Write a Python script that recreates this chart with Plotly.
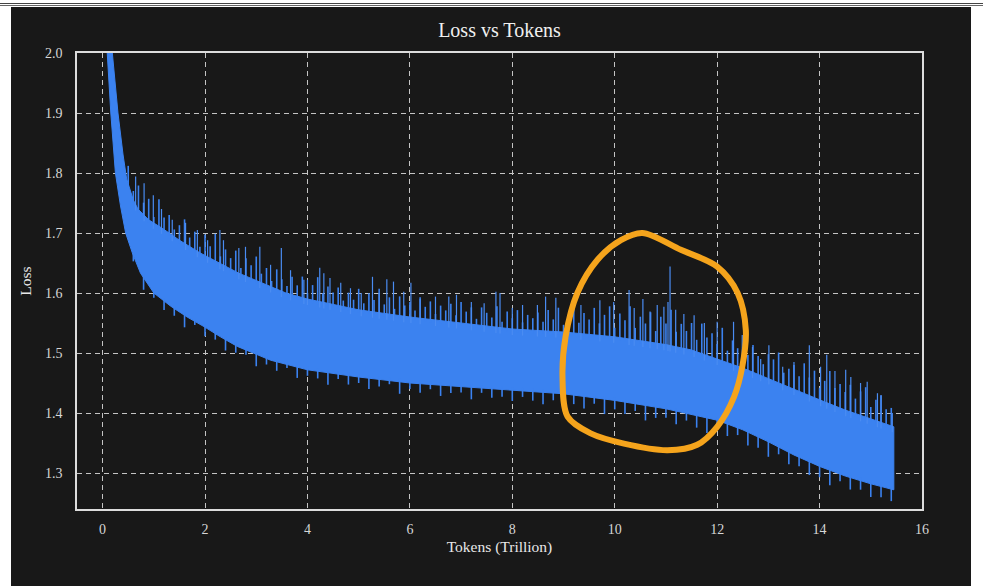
import numpy as np
import plotly.graph_objects as go

# ---- data ----
lower_x = [0.09, 0.16, 0.25, 0.35, 0.45, 0.58, 0.74, 1.0, 1.33, 1.65, 1.98, 2.3, 2.63,
           3.28, 4.0, 5.0, 6.0, 7.0, 8.0, 9.0, 10.0, 11.0, 12.0, 12.5, 13.0, 13.5, 14.0,
           14.5, 15.0, 15.45]
lower_y = [2.0, 1.9, 1.8, 1.745, 1.70, 1.667, 1.633, 1.60, 1.578, 1.56, 1.544, 1.527, 1.511,
           1.488, 1.472, 1.46, 1.45, 1.444, 1.438, 1.432, 1.421, 1.407, 1.388, 1.372, 1.352,
           1.33, 1.311, 1.295, 1.282, 1.272]
upper_x = [0.09, 0.19, 0.3, 0.4, 0.47, 0.6, 0.69, 0.9, 1.18, 1.5, 1.9, 2.66, 3.58, 4.0,
           5.0, 6.0, 7.0, 8.0, 9.0, 10.0, 11.0, 11.5, 12.0, 12.5, 13.0, 13.5, 14.0, 14.5, 15.0,
           15.45]
upper_y = [2.06, 2.0, 1.9, 1.83, 1.79, 1.755, 1.74, 1.722, 1.707, 1.688, 1.667, 1.633, 1.60,
           1.59, 1.572, 1.56, 1.55, 1.54, 1.535, 1.527, 1.514, 1.505, 1.49, 1.475, 1.458, 1.44,
           1.422, 1.405, 1.39, 1.377]

# tall individual spikes (absolute loss value at spike tip)
spike_x = [0.645, 0.81, 0.99, 1.15, 1.36, 1.62, 1.85, 2.05, 2.29, 2.36, 2.66, 2.79, 3.07, 3.28,
           3.49, 3.67, 3.93, 4.0, 4.24, 4.32, 4.44, 4.65, 4.84, 5.05, 5.27, 5.4, 5.55, 5.68,
           5.88, 6.02, 6.2, 6.5, 6.76, 6.91, 7.2, 7.45, 7.68, 7.76, 8.0, 8.2, 8.49, 8.65, 8.85,
           9.34, 9.71, 9.98, 10.28, 10.38, 10.55, 10.69, 10.83, 10.96, 11.04, 11.08, 11.19,
           11.35, 11.55, 11.75, 12.0, 12.32, 12.49, 12.69, 12.85, 13.01, 13.28, 13.5, 13.8,
           14.02, 14.14, 14.3, 14.51, 14.61, 14.8, 14.93, 15.13, 15.2, 15.42]
spike_y = [1.794, 1.783, 1.763, 1.74, 1.722, 1.717, 1.705, 1.688, 1.705, 1.688, 1.675, 1.677,
           1.677, 1.647, 1.675, 1.638, 1.622, 1.622, 1.642, 1.633, 1.625, 1.617, 1.608, 1.60,
           1.627, 1.60, 1.623, 1.619, 1.602, 1.617, 1.59, 1.594, 1.594, 1.597, 1.585, 1.583,
           1.602, 1.60, 1.575, 1.58, 1.58, 1.594, 1.592, 1.58, 1.588, 1.585, 1.605, 1.575,
           1.59, 1.569, 1.58, 1.577, 1.585, 1.644, 1.572, 1.565, 1.563, 1.55, 1.552, 1.552,
           1.53, 1.51, 1.49, 1.513, 1.477, 1.485, 1.513, 1.477, 1.497, 1.47, 1.472, 1.46,
           1.45, 1.452, 1.433, 1.43, 1.40]

# dense fringe of short hairlines above the band (height above band top)
fringe_x = [0.5, 0.6, 0.7, 0.8, 0.9, 1.0, 1.1, 1.2, 1.3, 1.4,
            1.5, 1.6, 1.7, 1.8, 1.9, 2.0, 2.1, 2.2, 2.3, 2.4,
            2.5, 2.6, 2.7, 2.8, 2.9, 3.0, 3.1, 3.2, 3.3, 3.4,
            3.5, 3.6, 3.7, 3.8, 3.9, 4.0, 4.1, 4.2, 4.3, 4.4,
            4.5, 4.6, 4.7, 4.8, 4.9, 5.0, 5.1, 5.2, 5.3, 5.4,
            5.5, 5.6, 5.7, 5.8, 5.9, 6.0, 6.1, 6.2, 6.3, 6.4,
            6.5, 6.6, 6.7, 6.8, 6.9, 7.0, 7.1, 7.2, 7.3, 7.4,
            7.5, 7.6, 7.7, 7.8, 7.9, 8.0, 8.1, 8.2, 8.3, 8.4,
            8.5, 8.6, 8.7, 8.8, 8.9, 9.0, 9.1, 9.2, 9.3, 9.4,
            9.5, 9.6, 9.7, 9.8, 9.9, 10.0, 10.1, 10.2, 10.3, 10.4,
            10.5, 10.6, 10.7, 10.8, 10.9, 11.0, 11.1, 11.2, 11.3, 11.4,
            11.5, 11.6, 11.7, 11.8, 11.9, 12.0, 12.1, 12.2, 12.3, 12.4,
            12.5, 12.6, 12.7, 12.8, 12.9, 13.0, 13.1, 13.2, 13.3, 13.4,
            13.5, 13.6, 13.7, 13.8, 13.9, 14.0, 14.1, 14.2, 14.3, 14.4,
            14.5, 14.6, 14.7, 14.8, 14.9, 15.0, 15.1, 15.2, 15.3, 15.4]
fringe_h = [0.03, 0.015, 0.04, 0.02, 0.035, 0.01, 0.045, 0.02, 0.03, 0.012,
            0.025, 0.04, 0.015, 0.03, 0.01, 0.035, 0.02, 0.045, 0.012, 0.028,
            0.018, 0.035, 0.01, 0.03, 0.022, 0.04, 0.015, 0.028, 0.01, 0.033,
            0.02, 0.012, 0.03, 0.018, 0.035, 0.01, 0.025, 0.04, 0.015, 0.028,
            0.02, 0.03, 0.01, 0.025, 0.015, 0.035, 0.012, 0.03, 0.02, 0.04,
            0.015, 0.028, 0.01, 0.032, 0.018, 0.025, 0.012, 0.035, 0.02, 0.03,
            0.01, 0.025, 0.018, 0.03, 0.012, 0.035, 0.02, 0.028, 0.01, 0.03,
            0.022, 0.015, 0.035, 0.01, 0.028, 0.018, 0.032, 0.012, 0.025, 0.02,
            0.03, 0.015, 0.035, 0.02, 0.04, 0.012, 0.03, 0.045, 0.018, 0.035,
            0.025, 0.045, 0.02, 0.035, 0.05, 0.015, 0.04, 0.03, 0.055, 0.02,
            0.04, 0.03, 0.05, 0.02, 0.045, 0.035, 0.06, 0.025, 0.04, 0.03,
            0.045, 0.02, 0.05, 0.03, 0.04, 0.025, 0.055, 0.02, 0.04, 0.03,
            0.035, 0.025, 0.045, 0.03, 0.02, 0.04, 0.035, 0.05, 0.02, 0.03,
            0.04, 0.025, 0.05, 0.03, 0.045, 0.02, 0.035, 0.055, 0.03, 0.04,
            0.03, 0.045, 0.025, 0.04, 0.05, 0.02, 0.035, 0.045, 0.025, 0.03]

# short hairlines below the band (depth below band bottom)
dip_x = [0.6, 0.8, 1.0, 1.2, 1.4, 1.6, 1.8, 2.0, 2.2, 2.4,
         2.6, 2.8, 3.0, 3.2, 3.4, 3.6, 3.8, 4.0, 4.2, 4.4,
         4.6, 4.8, 5.0, 5.2, 5.4, 5.6, 5.8, 6.0, 6.2, 6.4,
         6.6, 6.8, 7.0, 7.2, 7.4, 7.6, 7.8, 8.0, 8.2, 8.4,
         8.6, 8.8, 9.0, 9.2, 9.4, 9.6, 9.8, 10.0, 10.2, 10.4,
         10.6, 10.8, 11.0, 11.2, 11.4, 11.6, 11.8, 12.0, 12.2, 12.4,
         12.6, 12.8, 13.0, 13.2, 13.4, 13.6, 13.8, 14.0, 14.2, 14.4,
         14.6, 14.8, 15.0, 15.2, 15.4]
dip_h = [0.01, 0.02, 0.008, 0.015, 0.012, 0.02, 0.006, 0.015, 0.01, 0.018,
         0.012, 0.008, 0.02, 0.01, 0.015, 0.006, 0.018, 0.01, 0.012, 0.02,
         0.008, 0.015, 0.01, 0.018, 0.012, 0.006, 0.02, 0.01, 0.015, 0.008,
         0.018, 0.012, 0.01, 0.02, 0.008, 0.015, 0.012, 0.018, 0.01, 0.015,
         0.02, 0.012, 0.025, 0.015, 0.02, 0.01, 0.025, 0.015, 0.02, 0.012,
         0.025, 0.018, 0.015, 0.022, 0.012, 0.02, 0.025, 0.015, 0.02, 0.012,
         0.022, 0.018, 0.025, 0.012, 0.02, 0.015, 0.022, 0.018, 0.025, 0.012,
         0.02, 0.015, 0.022, 0.018, 0.02]

circle_x = [10.54, 11.29, 12.0, 12.40, 12.56, 12.49, 12.33, 12.0, 11.61, 11.03, 10.18, 9.53,
            9.08, 8.98, 9.04, 9.27, 9.66, 10.12, 10.54]
circle_y = [1.700, 1.672, 1.644, 1.600, 1.538, 1.477, 1.427, 1.377, 1.347, 1.338, 1.349, 1.366,
            1.394, 1.461, 1.527, 1.600, 1.655, 1.688, 1.700]

x_ticks = [0, 2, 4, 6, 8, 10, 12, 14, 16]
y_ticks = [1.3, 1.4, 1.5, 1.6, 1.7, 1.8, 1.9, 2.0]

BLUE = "#3b82f0"
BG = "#181818"
FONT = "Liberation Serif"

fig = go.Figure()

# band
band_x = list(lower_x) + list(upper_x)[::-1]
band_y = list(lower_y) + list(upper_y)[::-1]
fig.add_trace(go.Scatter(x=band_x, y=band_y, mode="lines", fill="toself",
                         fillcolor=BLUE, line=dict(color=BLUE, width=1),
                         hoverinfo="skip", showlegend=False))

# fringe hairlines
fx, fy = [], []
for x, h in zip(fringe_x, fringe_h):
    base = float(np.interp(x, upper_x, upper_y))
    fx += [x, x, None]
    fy += [base - 0.005, base + h, None]
for x, h in zip(dip_x, dip_h):
    base = float(np.interp(x, lower_x, lower_y))
    fx += [x, x, None]
    fy += [base + 0.005, base - h, None]
fig.add_trace(go.Scatter(x=fx, y=fy, mode="lines", line=dict(color=BLUE, width=1.6),
                         hoverinfo="skip", showlegend=False))

# tall spikes
sx, sy = [], []
for x, y in zip(spike_x, spike_y):
    base = float(np.interp(x, upper_x, upper_y))
    sx += [x, x, None]
    sy += [base - 0.01, y, None]
fig.add_trace(go.Scatter(x=sx, y=sy, mode="lines", line=dict(color="#4a8cf2", width=1.2),
                         hoverinfo="skip", showlegend=False))

# orange circle
fig.add_trace(go.Scatter(x=circle_x, y=circle_y, mode="lines",
                         line=dict(color="#f5a41c", width=6, shape="spline", smoothing=0.9),
                         hoverinfo="skip", showlegend=False))

# margins: l=77, r=61, t=53, b=77 -> plot area 845 x 456
PW, PH = 845, 456
def px2paper_x(px):
    return (px - 77) / PW
def py2paper_y(py):
    return (509 - py) / PH

shapes = [
    dict(type="rect", xref="paper", yref="paper", layer="below",
         x0=px2paper_x(11), x1=px2paper_x(971), y0=py2paper_y(586), y1=py2paper_y(7),
         fillcolor=BG, line=dict(width=0)),
    dict(type="line", xref="paper", yref="paper",
         x0=px2paper_x(0), x1=px2paper_x(983), y0=py2paper_y(3.5), y1=py2paper_y(3.5),
         line=dict(color="#444444", width=1.2)),
    dict(type="line", xref="paper", yref="paper",
         x0=px2paper_x(0), x1=px2paper_x(983), y0=py2paper_y(5.5), y1=py2paper_y(5.5),
         line=dict(color="#666666", width=1)),
]

axis_common = dict(
    showgrid=True, gridcolor="#c4c4c4", gridwidth=1, griddash="5px,4px",
    showline=True, linecolor="#dcdcdc", linewidth=1.5, mirror=True,
    ticks="", zeroline=False,
    tickfont=dict(family=FONT, size=14, color="#d6d6d6"),
)

fig.update_layout(
    width=983, height=586,
    margin=dict(l=77, r=61, t=53, b=77),
    paper_bgcolor="white",
    plot_bgcolor="rgba(0,0,0,0)",
    shapes=shapes,
    title=dict(text="Loss vs Tokens", x=0.5, xref="paper", y=1 - 30 / 586, yanchor="middle",
               font=dict(family=FONT, size=20, color="#f0f0f0")),
    xaxis=dict(range=[-0.5, 16], tickvals=x_ticks, ticktext=[str(v) for v in x_ticks],
               ticklabelstandoff=6,
               title=dict(text="Tokens (Trillion)", standoff=6,
                          font=dict(family=FONT, size=15.5, color="#e8e8e8")),
               **axis_common),
    yaxis=dict(range=[1.24, 2.0], tickvals=y_ticks, ticktext=[f"{v:.1f}" for v in y_ticks],
               ticklabelstandoff=10,
               title=dict(text="Loss", standoff=10,
                          font=dict(family=FONT, size=15.5, color="#e8e8e8")),
               **axis_common),
    showlegend=False,
)

fig.write_html("out.html")
